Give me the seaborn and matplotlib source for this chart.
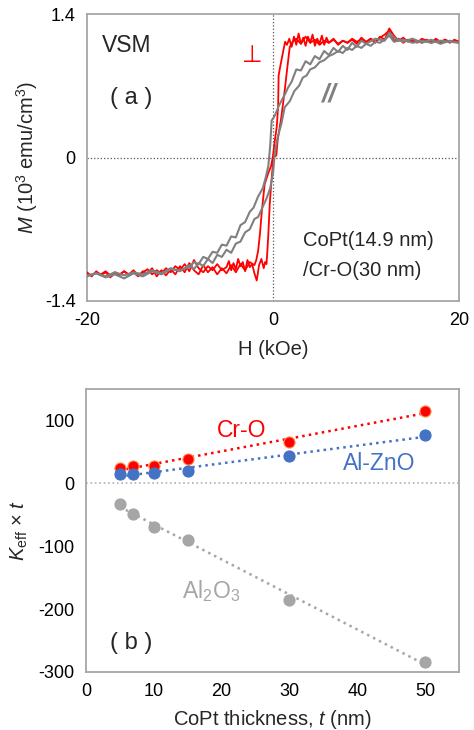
import matplotlib
matplotlib.use("Agg")
import matplotlib.pyplot as plt
import seaborn as sns
import numpy as np
import pandas as pd

# ---------- panel (a): VSM loops ----------
# perpendicular, descending branch (H from +20 to -20)
perp_dn_H = [20.0, 19.5, 19.0, 18.5, 18.0, 17.5, 17.0, 16.5, 16.0, 15.5, 15.0, 14.5,
             14.0, 13.5, 13.0, 12.5, 12.0, 11.5, 11.0, 10.5, 10.0, 9.5, 9.0, 8.5,
             8.0, 7.5, 7.0, 6.5, 6.0, 5.75, 5.5, 5.25, 5.0, 4.75, 4.5, 4.25, 4.0,
             3.75, 3.5, 3.25, 3.0, 2.75, 2.5, 2.25, 2.0, 1.75, 1.5, 1.3,
             1.1, 0.8, 0.6, 0.55, 0.4, 0.2, 0.0, -0.2, -0.5, -0.9, -1.2, -1.4, -1.6,
             -1.8, -2.0, -2.5, -3.0, -3.5, -4.0, -4.5, -5.0, -5.5, -6.0, -6.5, -7.0,
             -7.5, -8.0, -8.5, -9.0, -9.5, -10.0, -10.5, -11.0, -11.5, -12.0, -12.5,
             -13.0, -13.5, -14.0, -14.5, -15.0, -15.5, -16.0, -16.5, -17.0, -17.5,
             -18.0, -18.5, -19.0, -19.5, -20.0]
perp_dn_M = [1.13, 1.15, 1.12, 1.15, 1.13, 1.16, 1.12, 1.14, 1.16, 1.12, 1.15, 1.13,
             1.17, 1.14, 1.19, 1.26, 1.15, 1.18, 1.12, 1.16, 1.13, 1.17, 1.11, 1.15,
             1.12, 1.14, 1.10, 1.16, 1.12, 1.17, 1.10, 1.19, 1.11, 1.16, 1.09, 1.20,
             1.12, 1.18, 1.09, 1.17, 1.11, 1.21, 1.10, 1.18, 1.08, 1.16, 1.10, 1.13,
             1.04, 0.90, 0.80, 0.50, 0.30, 0.17, 0.02, -0.08, -0.15,
             -0.26, -0.52, -0.74, -0.91, -1.00, -1.05, -1.02, -1.10, -1.04, -1.12,
             -1.05, -1.13, -1.08, -1.14, -1.07, -1.12, -1.05, -1.14, -1.10, -1.03,
             -1.12, -1.06, -1.14, -1.09, -1.15, -1.10, -1.16, -1.08, -1.13, -1.11,
             -1.16, -1.12, -1.15, -1.11, -1.14, -1.12, -1.15, -1.11, -1.14, -1.12,
             -1.15, -1.13]

# perpendicular, ascending branch (H from -20 to +20)
perp_up_H = [-20.0, -19.5, -19.0, -18.5, -18.0, -17.5, -17.0, -16.5, -16.0, -15.5,
             -15.0, -14.5, -14.0, -13.5, -13.0, -12.5, -12.0, -11.5, -11.0, -10.5,
             -10.0, -9.5, -9.0, -8.5, -8.0, -7.5, -7.0, -6.5, -6.0, -5.5, -5.0, -4.75,
             -4.5, -4.25, -4.0, -3.75, -3.5, -3.25, -3.0, -2.75, -2.5, -2.25, -2.0,
             -1.75, -1.5, -1.25, -1.0, -0.85, -0.7,
             -0.6, -0.5, -0.35, -0.2, 0.05, 0.35, 0.5, 0.9, 1.25, 1.5, 1.8, 2.1, 2.5,
             3.0, 3.5, 4.0, 4.5, 5.0, 5.5, 6.0, 6.5, 7.0, 7.5, 8.0, 8.5, 9.0, 9.5,
             10.0, 10.5, 11.0, 11.5, 12.0, 12.5, 13.0, 13.5, 14.0, 14.5, 15.0, 15.5,
             16.0, 16.5, 17.0, 17.5, 18.0, 18.5, 19.0, 19.5, 20.0]
perp_up_M = [-1.12, -1.16, -1.11, -1.15, -1.12, -1.17, -1.13, -1.15, -1.11, -1.14,
             -1.10, -1.15, -1.12, -1.09, -1.14, -1.10, -1.13, -1.08, -1.12, -1.06,
             -1.10, -1.04, -1.11, -1.00, -1.08, -1.12, -1.06, -1.10, -1.04, -1.10,
             -1.07, -1.01, -1.10, -1.03, -1.09, -0.99, -1.06, -1.02, -1.11, -1.00,
             -1.07, -1.04, -1.13, -1.20, -1.05, -0.99, -1.08, -1.02, -1.04,
             -0.90, -0.74, -0.45, -0.26, 0.00, 0.02, 0.17, 0.40,
             0.65, 0.85, 1.08, 1.13, 1.16, 1.11, 1.18, 1.12, 1.15, 1.10, 1.14, 1.12,
             1.15, 1.11, 1.14, 1.12, 1.16, 1.13, 1.15, 1.12, 1.16, 1.13, 1.17, 1.20,
             1.24, 1.14, 1.16, 1.12, 1.15, 1.13, 1.14, 1.12, 1.15, 1.13, 1.14, 1.12,
             1.15, 1.13, 1.14, 1.12]

# in-plane, descending branch
inpl_dn_H = [20.0, 19.0, 18.0, 17.0, 16.0, 15.0, 14.0, 13.0, 12.5, 12.0, 11.0, 10.0,
             9.5, 9.0, 8.5, 8.0, 7.5, 7.0, 6.5, 6.0, 5.5, 5.0, 4.5, 4.0, 3.5, 3.0,
             2.5, 2.0, 1.6, 1.3, 1.0, 0.6, 0.2, -0.15, -0.3, -0.5, -0.8, -1.1, -1.6,
             -2.1, -2.5, -3.0, -3.5, -4.0, -4.5, -5.0, -5.5, -6.0, -6.5, -7.0, -7.5,
             -8.0, -8.5, -9.0, -10.0, -11.0, -12.0, -13.0, -14.0, -15.0, -16.0,
             -17.0, -18.0, -19.0, -20.0]
inpl_dn_M = [1.12, 1.14, 1.11, 1.15, 1.12, 1.16, 1.13, 1.17, 1.22, 1.14, 1.16, 1.11,
             1.14, 1.08, 1.12, 1.05, 1.09, 1.03, 1.07, 1.00, 1.04, 0.96, 0.99, 0.91,
             0.94, 0.85, 0.86, 0.74, 0.68, 0.62, 0.57, 0.50, 0.41, 0.36, 0.12,
             -0.08, -0.20, -0.30, -0.38, -0.49, -0.53, -0.63, -0.66, -0.78, -0.77,
             -0.86, -0.85, -0.93, -0.92, -0.99, -0.97, -1.04, -1.02, -1.07, -1.10,
             -1.09, -1.14, -1.11, -1.16, -1.13, -1.18, -1.14, -1.17, -1.13, -1.16]

# in-plane, ascending branch
inpl_up_H = [-20.0, -19.0, -18.0, -17.0, -16.0, -15.0, -14.0, -13.0, -12.0, -11.0,
             -10.0, -9.0, -8.5, -8.0, -7.5, -7.0, -6.5, -6.0, -5.5, -5.0, -4.5, -4.0,
             -3.5, -3.0, -2.5, -2.0, -1.6, -1.2, -0.7, -0.3, 0.0, 0.2, 0.5, 0.9,
             1.25, 1.8, 2.3, 2.8, 3.2, 3.6, 4.0, 4.5, 5.0, 5.5, 6.0, 6.5, 7.0, 7.5,
             8.0, 8.5, 9.0, 9.5, 10.0, 10.5, 11.0, 11.5, 12.0, 12.5, 13.0, 14.0, 15.0,
             16.0, 17.0, 18.0, 19.0, 20.0]
inpl_up_M = [-1.15, -1.13, -1.16, -1.12, -1.15, -1.12, -1.14, -1.10, -1.13, -1.08,
             -1.11, -1.05, -1.09, -1.03, -1.06, -0.99, -1.03, -0.95, -0.97, -0.90,
             -0.93, -0.84, -0.82, -0.73, -0.70, -0.60, -0.58, -0.50, -0.40, -0.30,
             -0.15, 0.05, 0.20, 0.33, 0.49, 0.55, 0.65, 0.70, 0.78, 0.80, 0.86, 0.88,
             0.93, 0.95, 0.99, 1.01, 1.04, 1.02, 1.07, 1.05, 1.09, 1.07, 1.11, 1.09,
             1.13, 1.12, 1.15, 1.19, 1.13, 1.15, 1.12, 1.14, 1.12, 1.14, 1.13, 1.12]

# ---------- panel (b): K_eff x t vs thickness ----------
thickness = [5, 7, 10, 15, 30, 50]
k_cro = [24, 28, 28, 38, 66, 115]
k_alzno = [15, 14, 17, 20, 44, 76]
k_al2o3 = [-33, -49, -69, -90, -185, -284]

RED = '#ff0000'
GRAY_LINE = '#808080'
BLUE = '#4472c4'
GRAY_PT = '#a6a6a6'
SPINE = '#a6a6a6'

sns.set_style("white")
plt.rcParams['font.family'] = ['Liberation Sans', 'DejaVu Sans']
plt.rcParams['mathtext.fontset'] = 'custom'
plt.rcParams['mathtext.rm'] = 'Liberation Sans'
plt.rcParams['mathtext.it'] = 'Liberation Sans:italic'
plt.rcParams['axes.unicode_minus'] = False

fig = plt.figure(figsize=(4.74, 7.30), dpi=100)
ax1 = fig.add_axes([0.1835, 0.5877, 0.785, 0.393])
ax2 = fig.add_axes([0.1814, 0.0795, 0.787, 0.3877])


def style_axes(ax):
    for s in ax.spines.values():
        s.set_color(SPINE)
        s.set_linewidth(1.3)
        s.set_visible(True)
    ax.tick_params(axis='both', direction='out', length=5, width=1.2, color=SPINE,
                   labelsize=13, labelcolor='black', pad=3)


# ----- (a) -----
ax1.axhline(0, color='#555555', ls=':', lw=0.9, zorder=1)
ax1.axvline(0, color='#555555', ls=':', lw=0.9, zorder=1)
for hh, mm, col, lw in [(perp_dn_H, perp_dn_M, RED, 1.3), (perp_up_H, perp_up_M, RED, 1.3),
                        (inpl_dn_H, inpl_dn_M, GRAY_LINE, 1.5), (inpl_up_H, inpl_up_M, GRAY_LINE, 1.5)]:
    df = pd.DataFrame({'H': hh, 'M': mm})
    sns.lineplot(data=df, x='H', y='M', sort=False, estimator=None, color=col,
                 lw=lw, ax=ax1, zorder=3)

ax1.set_xlim(-20, 20)
ax1.set_ylim(-1.4, 1.4)
ax1.set_xticks([-20, 0, 20])
ax1.set_yticks([-1.4, 0, 1.4])
ax1.set_yticklabels(['-1.4', '0', '1.4'])
ax1.set_xticklabels(['-20', '0', '20'])
ax1.set_xlabel('H (kOe)', fontsize=14.5, labelpad=8)
ax1.set_ylabel(r'$M$ (10$^3$ emu/cm$^3$)', fontsize=14.5, labelpad=4)
style_axes(ax1)

ax1.text(-18.4, 1.09, 'VSM', fontsize=16.5, ha='left', va='center')
ax1.text(-15.2, 0.58, '( a )', fontsize=17, ha='center', va='center')
ax1.text(-2.2, 1.0, '⊥', fontsize=17, color=RED, ha='center', va='center',
         family=['DejaVu Sans'])
ax1.text(6.1, 0.62, '//', fontsize=19, color=GRAY_LINE, ha='center', va='center',
         style='italic', fontweight='bold')
ax1.text(3.2, -0.81, 'CoPt(14.9 nm)', fontsize=14.5, ha='left', va='center')
ax1.text(3.2, -1.10, '/Cr-O(30 nm)', fontsize=14.5, ha='left', va='center')

# ----- (b) -----
ax2.axhline(0, color='#b0b0b0', ls=':', lw=1.2, zorder=1)
for yy, col, edge in [(k_cro, RED, '#ff9050'), (k_alzno, BLUE, BLUE), (k_al2o3, GRAY_PT, GRAY_PT)]:
    df = pd.DataFrame({'t': thickness, 'k': yy})
    sns.regplot(data=df, x='t', y='k', scatter=False, ci=None, truncate=True, ax=ax2,
                line_kws=dict(color=col, ls=':', lw=1.8, zorder=2))
    sns.scatterplot(data=df, x='t', y='k', color=col, s=64, edgecolor=edge,
                    linewidth=0.8, ax=ax2, zorder=3)

ax2.set_xlim(0, 55)
ax2.set_ylim(-300, 150)
ax2.set_xticks([0, 10, 20, 30, 40, 50])
ax2.set_yticks([-300, -200, -100, 0, 100])
ax2.set_xlabel(r'CoPt thickness, $t$ (nm)', fontsize=14.5, labelpad=6)
ax2.set_ylabel(r'$K_{\mathrm{eff}}$ × $t$', fontsize=14.5, labelpad=6)
style_axes(ax2)

ax2.text(22.9, 84, 'Cr-O', fontsize=16.5, color=RED, ha='center', va='center')
ax2.text(43.2, 31, 'Al-ZnO', fontsize=16.5, color=BLUE, ha='center', va='center')
ax2.text(18.5, -171, r'Al$_2$O$_3$', fontsize=16.5, color=GRAY_PT, ha='center', va='center')
ax2.text(6.6, -254, '( b )', fontsize=17, ha='center', va='center')

fig.savefig('out.png', dpi=100)
